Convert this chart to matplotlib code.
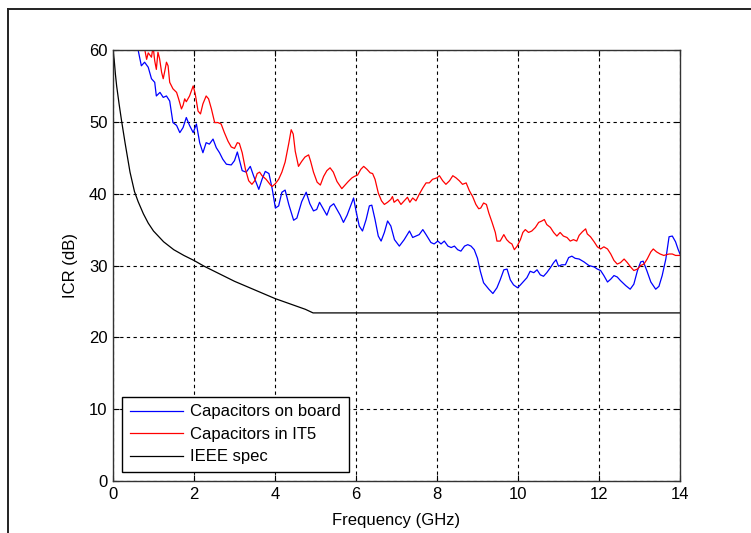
import matplotlib
matplotlib.use("Agg")
import matplotlib.pyplot as plt
from matplotlib.lines import Line2D

plt.rcParams['font.family'] = ['Liberation Sans', 'DejaVu Sans']
plt.rcParams['font.size'] = 12

# ICR measured with capacitors on the board (GHz, dB)
board_f = [0.45, 0.62, 0.70, 0.78, 0.87, 0.95, 1.03, 1.07, 1.16, 1.24, 1.32, 1.40, 1.48, 1.57,
           1.65, 1.73, 1.81, 1.89, 1.98, 2.06, 2.14, 2.22, 2.30, 2.38, 2.47, 2.55, 2.63, 2.71,
           2.80, 2.92, 3.00, 3.07, 3.19, 3.29, 3.39, 3.47, 3.60, 3.68, 3.76, 3.85, 3.93, 4.01,
           4.09, 4.17, 4.25, 4.34, 4.46, 4.54, 4.66, 4.77, 4.86, 4.95, 5.03, 5.10, 5.19, 5.28,
           5.36, 5.45, 5.53, 5.61, 5.69, 5.78, 5.86, 5.94, 6.00, 6.08, 6.16, 6.25, 6.33, 6.39,
           6.47, 6.55, 6.62, 6.70, 6.78, 6.86, 6.95, 7.07, 7.19, 7.32, 7.40, 7.48, 7.56, 7.65,
           7.73, 7.85, 7.93, 8.02, 8.10, 8.18, 8.27, 8.35, 8.43, 8.51, 8.59, 8.68, 8.76, 8.84,
           8.92, 9.00, 9.07, 9.15, 9.28, 9.38, 9.48, 9.56, 9.65, 9.73, 9.81, 9.89, 9.99, 10.06,
           10.14, 10.22, 10.30, 10.39, 10.47, 10.55, 10.63, 10.71, 10.80, 10.88, 10.94, 11.00,
           11.08, 11.17, 11.25, 11.33, 11.41, 11.51, 11.63, 11.75, 11.88, 11.96, 12.04, 12.12,
           12.21, 12.29, 12.37, 12.45, 12.53, 12.66, 12.77, 12.86, 12.95, 13.03, 13.09, 13.18,
           13.28, 13.40, 13.48, 13.56, 13.65, 13.73, 13.81, 13.89, 13.95, 14.00]
board_icr = [63.0, 60.0, 57.8, 58.3, 57.6, 56.0, 55.5, 53.6, 54.1, 53.4, 53.6, 52.9, 49.9, 49.5,
             48.5, 49.2, 50.6, 49.5, 48.5, 49.7, 47.1, 45.7, 47.1, 46.9, 47.6, 46.4, 45.7, 44.8,
             44.1, 44.0, 44.6, 45.8, 43.2, 43.0, 43.8, 42.5, 40.6, 42.0, 43.1, 42.8, 40.7, 38.0,
             38.3, 40.2, 40.5, 38.5, 36.3, 36.6, 38.9, 40.2, 38.6, 37.6, 37.8, 38.8, 37.9, 37.0,
             38.2, 38.6, 37.8, 37.0, 36.0, 37.0, 38.2, 39.4, 37.6, 35.5, 34.8, 36.4, 38.3, 38.4,
             36.4, 34.1, 33.4, 34.6, 36.2, 35.5, 33.6, 32.7, 33.6, 34.8, 33.9, 34.1, 34.3, 35.0,
             34.3, 33.2, 33.0, 33.4, 33.0, 33.4, 32.7, 32.5, 32.7, 32.2, 32.0, 32.7, 32.9, 32.7,
             32.2, 31.0, 29.2, 27.6, 26.7, 26.1, 26.9, 28.0, 29.4, 29.5, 28.0, 27.3, 26.9, 27.3,
             27.8, 28.3, 29.2, 29.0, 29.4, 28.7, 28.5, 29.0, 29.7, 30.4, 30.8, 29.9,
             30.1, 30.1, 31.1, 31.3, 31.0, 30.9, 30.5, 30.0, 29.8, 29.5, 29.3, 28.6,
             27.7, 28.1, 28.6, 28.4, 27.9, 27.2, 26.7, 27.4, 29.3, 30.5, 30.6, 29.3,
             27.7, 26.7, 27.1, 28.6, 30.9, 34.0, 34.1, 33.3, 32.3, 31.6]

# ICR measured with capacitors inside the IT5 (GHz, dB)
it5_f = [0.70, 0.79, 0.83, 0.87, 0.95, 0.99, 1.03, 1.07, 1.11, 1.15, 1.20, 1.24, 1.28, 1.32,
         1.36, 1.40, 1.48, 1.57, 1.62, 1.69, 1.73, 1.77, 1.81, 1.89, 1.98, 2.03, 2.10, 2.16,
         2.22, 2.30, 2.36, 2.43, 2.51, 2.59, 2.67, 2.75, 2.84, 2.92, 3.00, 3.07, 3.12, 3.19,
         3.27, 3.35, 3.43, 3.50, 3.56, 3.62, 3.68, 3.78, 3.89, 3.93, 4.01, 4.09, 4.17, 4.25,
         4.34, 4.40, 4.45, 4.50, 4.58, 4.66, 4.74, 4.83, 4.88, 4.95, 5.04, 5.12, 5.20, 5.28,
         5.36, 5.44, 5.53, 5.65, 5.73, 5.81, 5.90, 5.96, 6.04, 6.12, 6.19, 6.27, 6.35, 6.41,
         6.47, 6.55, 6.63, 6.70, 6.78, 6.86, 6.90, 6.94, 7.03, 7.11, 7.19, 7.27, 7.33, 7.40,
         7.48, 7.56, 7.65, 7.73, 7.81, 7.89, 8.00, 8.06, 8.14, 8.22, 8.31, 8.39, 8.47, 8.55,
         8.63, 8.72, 8.80, 8.88, 8.96, 9.03, 9.08, 9.15, 9.22, 9.28, 9.36, 9.44, 9.48, 9.56,
         9.65, 9.72, 9.79, 9.85, 9.91, 9.98, 10.06, 10.12, 10.18, 10.26, 10.34, 10.43, 10.51,
         10.59, 10.65, 10.71, 10.80, 10.88, 10.96, 11.04, 11.12, 11.21, 11.29, 11.37, 11.45,
         11.51, 11.59, 11.67, 11.71, 11.79, 11.88, 11.96, 12.04, 12.12, 12.21, 12.29, 12.37,
         12.45, 12.53, 12.62, 12.70, 12.78, 12.86, 12.95, 13.03, 13.11, 13.19, 13.28, 13.34,
         13.42, 13.51, 13.60, 13.73, 13.81, 13.89, 14.00]
it5_icr = [62.0, 59.9, 58.7, 59.6, 59.0, 60.5, 58.5, 57.3, 59.7, 58.8, 56.9, 56.0, 57.1, 58.3,
           57.8, 55.5, 54.6, 54.1, 53.2, 51.8, 52.3, 53.2, 52.8, 53.6, 55.0, 53.9, 51.5, 51.1,
           52.5, 53.6, 53.2, 51.8, 49.9, 49.9, 49.7, 48.5, 47.3, 46.5, 46.3, 47.1, 47.0, 45.7,
           43.4, 41.8, 41.3, 41.8, 42.8, 43.0, 42.5, 42.0, 41.2, 41.0, 41.4, 42.0, 43.0, 44.4,
           47.0, 48.9, 48.3, 45.9, 43.8, 44.5, 45.1, 45.4, 44.5, 43.0, 41.6, 41.2, 42.4, 43.2,
           43.6, 43.0, 41.7, 40.7, 41.2, 41.7, 42.2, 42.4, 42.6, 43.4, 43.8, 43.4, 42.9, 42.8,
           42.0, 40.1, 39.0, 38.5, 38.8, 39.2, 39.6, 38.8, 39.2, 38.5, 39.0, 39.5, 38.8, 39.4,
           39.0, 39.9, 40.8, 41.5, 41.5, 42.0, 42.2, 42.5, 41.8, 41.3, 41.8, 42.5, 42.2, 41.8,
           41.3, 41.5, 40.4, 39.6, 38.5, 37.9, 38.0, 38.7, 38.5, 37.3, 36.0, 34.6, 33.4, 33.4,
           34.3, 33.6, 33.2, 33.0, 32.2, 32.7, 33.6, 34.6, 35.0, 34.6, 34.8, 35.3, 36.0,
           36.2, 36.4, 35.7, 35.3, 34.6, 34.1, 34.6, 34.1, 33.9, 33.4, 33.6, 33.4,
           34.2, 34.7, 35.1, 34.4, 34.0, 33.3, 32.6, 32.3, 32.6, 32.3, 31.6, 30.7,
           30.2, 30.4, 30.9, 30.4, 29.8, 29.3, 29.5, 30.0, 30.2, 30.9, 31.9, 32.3,
           31.9, 31.6, 31.4, 31.6, 31.6, 31.4, 31.4]

# IEEE ICR limit (GHz, dB)
spec_f = [0.0, 0.03, 0.06, 0.09, 0.15, 0.21, 0.30, 0.42, 0.53, 0.62, 0.75, 0.87, 1.00, 1.25,
          1.50, 1.75, 2.00, 2.25, 2.50, 2.75, 3.00, 3.25, 3.50, 3.75, 4.00, 4.25, 4.50, 4.75,
          4.94, 14.0]
spec_icr = [60.0, 58.6, 56.6, 55.0, 52.5, 50.2, 47.0, 43.0, 40.3, 38.9, 37.2, 35.9, 34.8, 33.3,
            32.2, 31.4, 30.7, 29.9, 29.2, 28.5, 27.8, 27.2, 26.6, 26.0, 25.4, 24.9, 24.4, 23.9,
            23.4, 23.4]

x_ticks = [0, 2, 4, 6, 8, 10, 12, 14]
y_ticks = [0, 10, 20, 30, 40, 50, 60]

W, H = 751, 533
fig = plt.figure(figsize=(W / 100, H / 100), dpi=100)
fig.patch.set_facecolor('white')

# outer frame around the figure (left and top edges visible)
fig.add_artist(Line2D([8 / W, 8 / W], [0, 1 - 9 / H], transform=fig.transFigure,
                      color='#222222', lw=1.4))
fig.add_artist(Line2D([8 / W, 1], [1 - 9 / H, 1 - 9 / H], transform=fig.transFigure,
                      color='#222222', lw=1.4))

ax = fig.add_axes([113 / W, 1 - 481 / H, 567 / W, 431 / H])
ax.plot(board_f, board_icr, color='#0000ff', lw=0.9, label='Capacitors on board')
ax.plot(it5_f, it5_icr, color='#ff0000', lw=0.9, label='Capacitors in IT5')
ax.plot(spec_f, spec_icr, color='black', lw=0.9, label='IEEE spec')

ax.set_xlim(0, 14)
ax.set_ylim(0, 60)
ax.set_xticks(x_ticks)
ax.set_yticks(y_ticks)
ax.grid(True, color='black', linestyle=(0, (3, 3)), lw=0.8)
ax.tick_params(direction='in', top=True, right=True, length=4, width=0.8,
               labelsize=12, colors='black', pad=4)
for s in ax.spines.values():
    s.set_color('#333333')
    s.set_linewidth(1.0)

ax.set_xlabel('Frequency (GHz)', fontsize=12, labelpad=8)
ax.set_ylabel('ICR (dB)', fontsize=12, labelpad=8)

leg = ax.legend(loc='lower left', bbox_to_anchor=(0.016, 0.021), borderaxespad=0,
                fancybox=False, framealpha=1, edgecolor='black', fontsize=12,
                handlelength=3.2, labelspacing=0.45, borderpad=0.45, handletextpad=0.45)
leg.get_frame().set_linewidth(1.0)

fig.savefig('out.png', dpi=100)
